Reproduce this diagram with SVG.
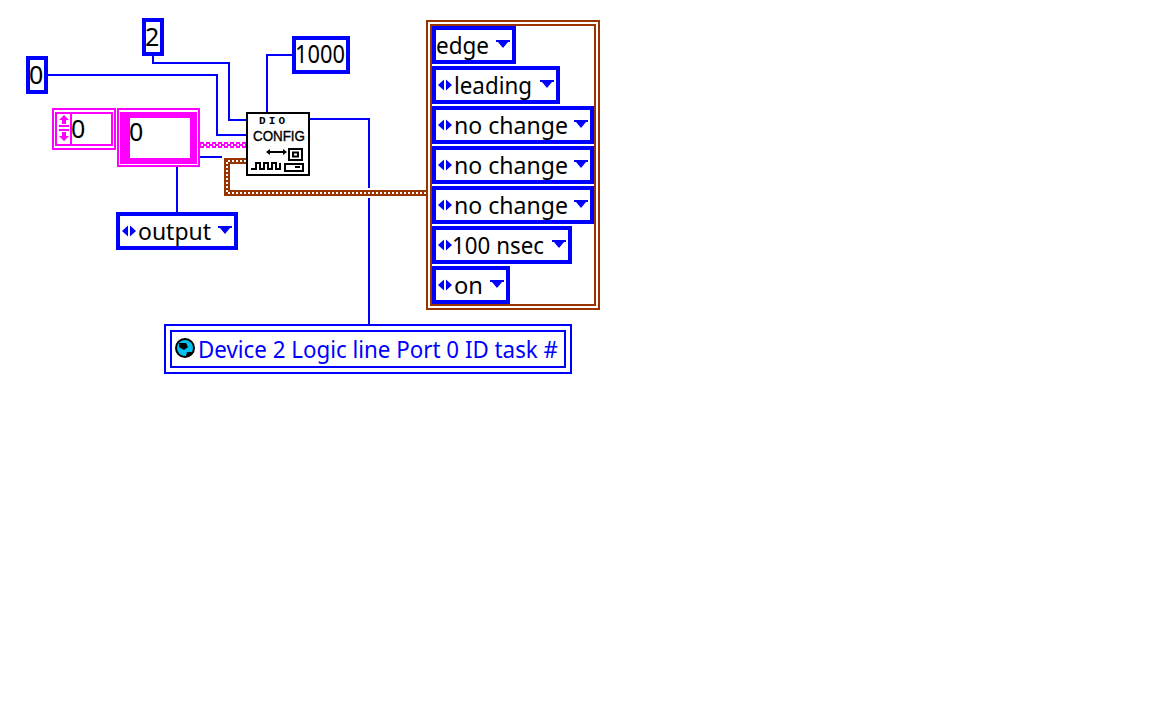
<svg xmlns="http://www.w3.org/2000/svg" width="1152" height="720" viewBox="0 0 1152 720">
<style>
.w{fill:none;stroke:#0000ff;stroke-width:2}
.b{fill:#fff;stroke:#0000ff;stroke-width:4}
.t{font-family:"Noto Sans","DejaVu Sans",sans-serif;font-size:24px;fill:#000}
.n{font-family:"Noto Sans","DejaVu Sans",sans-serif;font-size:25px;fill:#000}
.a{fill:#0000ff}
.p{fill:none;stroke:#ff00ff;stroke-width:2}
.br{fill:none;stroke:#993300;stroke-width:2}
.k{fill:none;stroke:#000;stroke-width:2}
</style>
<defs>
<g id="ud"><path class="a" d="M0 0l6-5.500v11zM14 0l-6-5.500v11z"/></g>
<path id="dn" class="a" d="M0 0h14v2h-2l-5 6-5-6h-2z"/>
</defs>
<rect width="1152" height="720" fill="#fff"/>
<g id="connectors">
<path class="w" d="M48 75H217V135H246M153 56V63H229V120H246M267 112V55H292M310 119H369V188M369 198V324M177 167V212M200 157H222"/>
<path fill="none" stroke="#ff00ff" stroke-width="2" d="M200 145H246"/>
<path fill="none" stroke="#ff00ff" stroke-width="6" stroke-dasharray="4 2" d="M200 145H246"/>
<path fill="none" stroke="#fff" stroke-width="2" stroke-dasharray="2 4" d="M201 145H246"/>
<path fill="none" stroke="#993300" stroke-width="6" d="M246 161H227V193H427"/>
<path fill="none" stroke="#fff" stroke-width="2" stroke-dasharray="2 2" d="M246 161H227V193H427"/>
</g>
<g id="const-0"><rect class="b" x="28" y="58" width="18" height="34"/><text class="n" x="29" y="84">0</text></g>
<g id="const-2"><rect class="b" x="144" y="20" width="18" height="34"/><text class="n" x="145" y="46">2</text></g>
<g id="const-1000"><rect class="b" x="294" y="38" width="54" height="34"/><text class="n" x="295" y="63" textLength="50" lengthAdjust="spacingAndGlyphs">1000</text></g>
<g id="spinner">
<rect class="p" x="53" y="109" width="62" height="40"/>
<rect class="p" x="56" y="113" width="56" height="32" fill="#fff"/>
<rect x="70" y="113" width="2" height="32" fill="#ff00ff"/>
<path d="M64 115l5 5h-3v4h-4v-4h-3zM59 125H69V127H59zM59 129H69V131H59zM62 132h4v4h3l-5 5-5-5h3z" fill="#ff00ff"/>
<text class="n" x="71" y="138">0</text>
</g>
<g id="array">
<rect class="p" x="118" y="109" width="81" height="57" fill="#fff"/>
<rect x="120" y="112" width="77" height="52" fill="#ff00ff"/>
<rect x="130" y="118" width="60" height="40" fill="#fff"/>
<text class="n" x="129" y="141">0</text>
</g>
<g id="enum-output"><rect class="b" x="118" y="214" width="118" height="34"/><use href="#ud" x="122" y="231"/><text class="t" x="138" y="240" textLength="73" lengthAdjust="spacingAndGlyphs">output</text><use href="#dn" x="218" y="226"/></g>
<g id="dio-config">
<rect x="247" y="113" width="62" height="62" fill="#fff" stroke="#000" stroke-width="2"/>
<text x="259" y="123.500" font-family="Liberation Mono,monospace" font-size="11" font-weight="bold" textLength="26" lengthAdjust="spacing">DIO</text>
<text x="253" y="140.500" font-family="Liberation Sans,sans-serif" font-size="15" stroke="#000" stroke-width=".4" textLength="52" lengthAdjust="spacingAndGlyphs">CONFIG</text>
<path class="k" d="M268 152H285M251 169H256V163H260V169H264V163H268V169H272V163H276V169H280V163M289 149H302V160H289ZM293 152.500H298V156.500H293ZM285 164H303V171H285ZM295 167H300"/>
<path d="M266 152l4-3v6zM287 152l-4-3v6z" fill="#000"/>
</g>
<g id="cluster">
<rect class="br" x="427" y="21" width="172" height="288"/>
<rect class="br" x="431" y="25" width="164" height="280" fill="#fff"/>
</g>
<g id="enum-edge"><rect class="b" x="434" y="28" width="80" height="34"/><text class="t" x="436" y="54" textLength="53" lengthAdjust="spacingAndGlyphs">edge</text><use href="#dn" x="496" y="40"/></g>
<g id="enum-leading"><rect class="b" x="434" y="68" width="124" height="34"/><use href="#ud" x="438" y="85"/><text class="t" x="454" y="94" textLength="78" lengthAdjust="spacingAndGlyphs">leading</text><use href="#dn" x="540" y="80"/></g>
<g id="enum-nc1"><rect class="b" x="434" y="108" width="158" height="34"/><use href="#ud" x="438" y="125"/><text class="t" x="454" y="134" textLength="114" lengthAdjust="spacingAndGlyphs">no change</text><use href="#dn" x="574" y="120"/></g>
<g id="enum-nc2"><rect class="b" x="434" y="148" width="158" height="34"/><use href="#ud" x="438" y="165"/><text class="t" x="454" y="174" textLength="114" lengthAdjust="spacingAndGlyphs">no change</text><use href="#dn" x="574" y="160"/></g>
<g id="enum-nc3"><rect class="b" x="434" y="188" width="158" height="34"/><use href="#ud" x="438" y="205"/><text class="t" x="454" y="214" textLength="114" lengthAdjust="spacingAndGlyphs">no change</text><use href="#dn" x="574" y="200"/></g>
<g id="enum-nsec"><rect class="b" x="434" y="228" width="136" height="34"/><use href="#ud" x="438" y="245"/><text class="t" x="452" y="254" textLength="92" lengthAdjust="spacingAndGlyphs">100 nsec</text><use href="#dn" x="552" y="240"/></g>
<g id="enum-on"><rect class="b" x="434" y="268" width="74" height="34"/><use href="#ud" x="438" y="285"/><text class="t" x="454" y="294" textLength="29" lengthAdjust="spacingAndGlyphs">on</text><use href="#dn" x="490" y="280"/></g>
<g id="task">
<rect x="165" y="325" width="406" height="48" fill="#fff" stroke="#0000ff" stroke-width="2"/>
<rect x="171" y="331" width="394" height="36" fill="#fff" stroke="#0000ff" stroke-width="2"/>
<circle cx="185" cy="348" r="9" fill="#00c0f0" stroke="#000" stroke-width="2"/>
<path d="M179 343h7l2 4-4 3-5-3zM187 352h5l-3 4h-3z" fill="#000"/>
<text x="198" y="358" font-family="Noto Sans,DejaVu Sans,sans-serif" font-size="23" fill="#0000ff" textLength="360" lengthAdjust="spacingAndGlyphs">Device 2 Logic line Port 0 ID task #</text>
</g>
</svg>
